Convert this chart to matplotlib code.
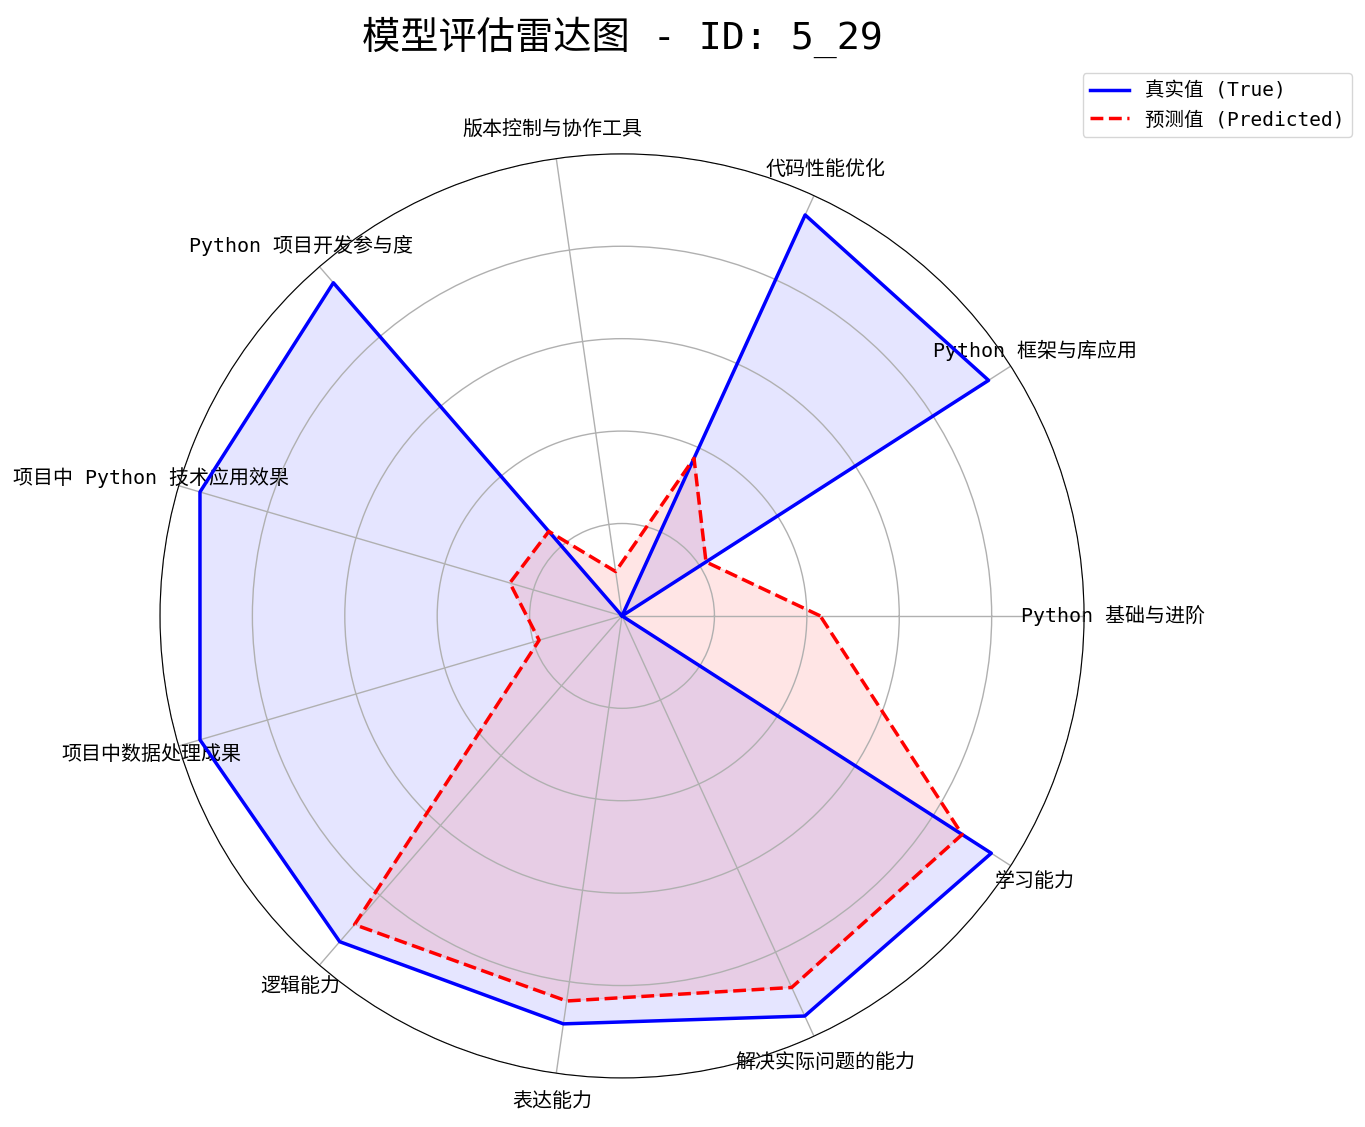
import numpy as np
import matplotlib
matplotlib.use("Agg")
import matplotlib.pyplot as plt

plt.rcParams['font.family'] = ['DejaVu Sans Mono', 'Noto Sans CJK SC']
plt.rcParams['axes.unicode_minus'] = False

categories = ["Python 基础与进阶", "Python 框架与库应用", "代码性能优化", "版本控制与协作工具",
              "Python 项目开发参与度", "项目中 Python 技术应用效果", "项目中数据处理成果",
              "逻辑能力", "表达能力", "解决实际问题的能力", "学习能力"]
true_values = [0.0, 0.943, 0.954, 0.0, 0.954, 0.952, 0.952, 0.933, 0.892, 0.952, 0.95]
pred_values = [0.429, 0.216, 0.375, 0.097, 0.242, 0.253, 0.187, 0.884, 0.842, 0.884, 0.875]

n = len(categories)
angles = np.linspace(0, 2 * np.pi, n, endpoint=False).tolist()
angles_c = angles + angles[:1]
tv = true_values + true_values[:1]
pv = pred_values + pred_values[:1]

fig = plt.figure(figsize=(13.65, 11.27), dpi=100)
ax = fig.add_axes([0.1172, 0.0435, 0.677, 0.820], projection='polar')

ax.plot(angles_c, tv, color='blue', linewidth=2.5, linestyle='-', label='真实值 (True)')
ax.fill(angles_c, tv, color='blue', alpha=0.1)
ax.plot(angles_c, pv, color='red', linewidth=2.5, linestyle='--', label='预测值 (Predicted)')
ax.fill(angles_c, pv, color='red', alpha=0.1)

ax.set_ylim(0, 1)
ax.set_yticks([0.2, 0.4, 0.6, 0.8, 1.0])
ax.set_yticklabels([])
ax.set_xticks(angles)
ax.set_xticklabels(categories, fontsize=14.4)
ax.tick_params(axis='x', pad=10)
ax.grid(color='#b0b0b0', linewidth=1.0)

fig.text(0.4557, 0.967, '模型评估雷达图 - ID: 5_29', fontsize=27.5, ha='center', va='center')
ax.legend(loc='upper right', bbox_to_anchor=(1.290, 1.087), borderaxespad=0, fontsize=14)

fig.savefig('out.png', dpi=100)
